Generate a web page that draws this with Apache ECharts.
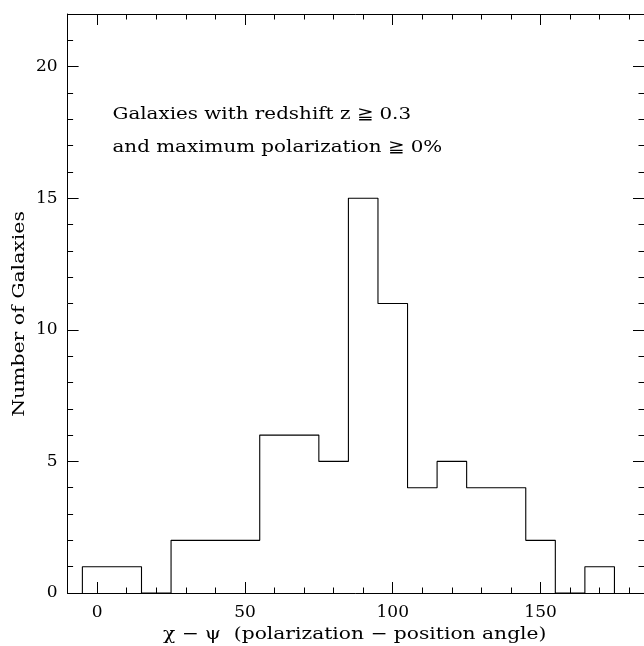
<!DOCTYPE html>
<html><head><meta charset="utf-8">
<script src="https://cdn.jsdelivr.net/npm/echarts@6/dist/echarts.min.js"></script>
<style>html,body{margin:0;padding:0;background:#fff}#c{width:644px;height:646px}</style>
</head><body><div id="c"></div>
<script>
// ---- data ----
const binEdges = [-5, 5, 15, 25, 35, 45, 55, 65, 75, 85, 95, 105, 115, 125, 135, 145, 155, 165, 175];
const counts   = [1, 1, 0, 2, 2, 2, 6, 6, 5, 15, 11, 4, 5, 4, 4, 2, 0, 1];
const xMajorTicks = [0, 50, 100, 150];
const yMajorTicks = [0, 5, 10, 15, 20];
const xRange = [-10, 185];
const yRange = [0, 22];
const noteLines = ['Galaxies with redshift z \u2267 0.3', 'and maximum polarization \u2267 0%'];
const xTitle = '\u03c7 \u2212 \u03c8  (polarization \u2212 position angle)';
const yTitle = 'Number of Galaxies';

// step outline built from the bins
const outline = [[binEdges[0], 0]];
counts.forEach((c, i) => { outline.push([binEdges[i], c]); outline.push([binEdges[i + 1], c]); });
outline.push([binEdges[binEdges.length - 1], 0]);

const FONT = 'DejaVu Serif';
const FS = 17;
const lineCol = '#000';
const fontStr = FS + 'px "' + FONT + '"';

function xAxisDef(pos, major) {
  const a = {
    type: 'value', position: pos, min: xRange[0], max: xRange[1],
    axisLine: { show: !major, onZero: false, lineStyle: { color: lineCol, width: 1 } },
    splitLine: { show: false },
    axisTick: { show: true, inside: true, length: major ? 11 : 5.5, lineStyle: { color: lineCol, width: 1 } },
    axisLabel: { show: false }
  };
  if (major) {
    a.axisTick.customValues = xMajorTicks;
    if (pos === 'bottom') {
      a.axisLabel = { show: true, customValues: xMajorTicks, margin: 11, fontFamily: FONT, fontSize: FS, color: '#000' };
    }
  } else {
    a.interval = 10;
  }
  return a;
}
function yAxisDef(pos, major) {
  const a = {
    type: 'value', position: pos, min: yRange[0], max: yRange[1],
    axisLine: { show: !major, onZero: false, lineStyle: { color: lineCol, width: 1 } },
    splitLine: { show: false },
    axisTick: { show: true, inside: true, length: major ? 11 : 5.5, lineStyle: { color: lineCol, width: 1 } },
    axisLabel: { show: false }
  };
  if (major) {
    a.axisTick.customValues = yMajorTicks;
    if (pos === 'left') {
      a.axisLabel = { show: true, customValues: yMajorTicks, margin: 10, fontFamily: FONT, fontSize: FS, color: '#000' };
    }
  } else {
    a.interval = 1;
  }
  return a;
}

const chart = echarts.init(document.getElementById('c'), null, { renderer: 'canvas' });
chart.setOption({
  animation: false,
  backgroundColor: '#fff',
  grid: { left: 67.6, top: 14, width: 577.2, height: 579, containLabel: false },
  xAxis: [xAxisDef('bottom', false), xAxisDef('bottom', true), xAxisDef('top', false), xAxisDef('top', true)],
  yAxis: [yAxisDef('left', false), yAxisDef('left', true), yAxisDef('right', false), yAxisDef('right', true)],
  series: [{
    type: 'line', xAxisIndex: 0, yAxisIndex: 0, data: outline,
    symbol: 'none', lineStyle: { color: '#000', width: 1.1 }
  }],
  graphic: [
    { type: 'text', x: 112.5, y: 114.5, scaleX: 1.17,
      style: { text: noteLines[0], font: fontStr, fill: '#000', align: 'left', verticalAlign: 'middle' } },
    { type: 'text', x: 112.5, y: 148, scaleX: 1.17,
      style: { text: noteLines[1], font: fontStr, fill: '#000', align: 'left', verticalAlign: 'middle' } },
    { type: 'text', x: 354.7, y: 635, scaleX: 1.19,
      style: { text: xTitle, font: fontStr, fill: '#000', align: 'center', verticalAlign: 'middle' } },
    { type: 'text', x: 20, y: 314, rotation: Math.PI / 2, scaleX: 1.2,
      style: { text: yTitle, font: fontStr, fill: '#000', align: 'center', verticalAlign: 'middle' } }
  ]
});
</script></body></html>
